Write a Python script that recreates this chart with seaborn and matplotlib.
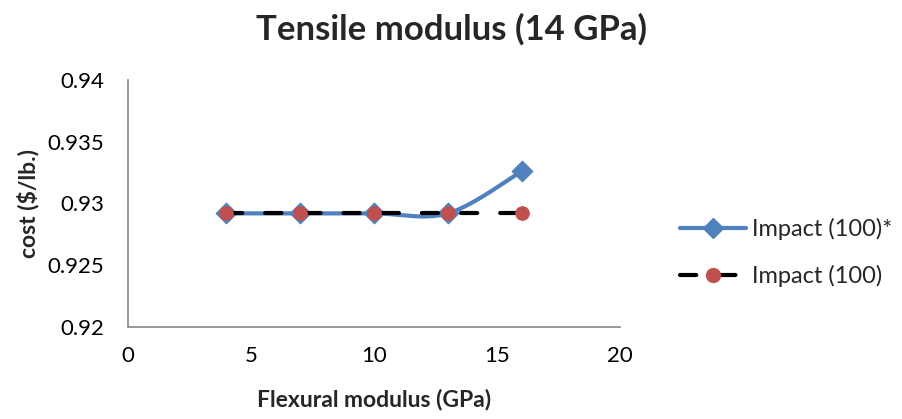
import numpy as np
import pandas as pd
import matplotlib
matplotlib.use("Agg")
import matplotlib.pyplot as plt
import seaborn as sns
from matplotlib.lines import Line2D

# Data
flexural_modulus = [4, 7, 10, 13, 16]
cost_impact_star = [0.9292, 0.9292, 0.9292, 0.9292, 0.9326]
cost_impact = [0.9292, 0.9292, 0.9292, 0.9292, 0.9292]
series_names = ["Impact (100)*", "Impact (100)"]

BLUE = "#4F81BD"
RED = "#C0504D"
DASH = (0, (3.9, 5.5))


def smooth_curve(x, y, n=40):
    """Bezier smoothing through the points (Catmull-Rom style controls)."""
    x = np.asarray(x, float)
    y = np.asarray(y, float)
    px = np.concatenate([[x[0]], x, [x[-1]]])
    py = np.concatenate([[y[0]], y, [y[-1]]])
    xs, ys = [], []
    t = np.linspace(0, 1, n)
    for i in range(1, len(px) - 2):
        p0 = np.array([px[i], py[i]])
        p3 = np.array([px[i + 1], py[i + 1]])
        c1 = p0 + (np.array([px[i + 1], py[i + 1]]) - np.array([px[i - 1], py[i - 1]])) / 6
        c2 = p3 - (np.array([px[i + 2], py[i + 2]]) - np.array([px[i], py[i]])) / 6
        b = ((1 - t) ** 3)[:, None] * p0 + (3 * (1 - t) ** 2 * t)[:, None] * c1 \
            + (3 * (1 - t) * t ** 2)[:, None] * c2 + (t ** 3)[:, None] * p3
        xs.extend(b[:, 0])
        ys.extend(b[:, 1])
    return np.array(xs), np.array(ys)


sns.set_style("white")
plt.rcParams["font.family"] = ["Lato", "DejaVu Sans"]

fig = plt.figure(figsize=(9.03, 4.19), dpi=100)
ax = fig.add_axes([0.1417, 0.2196, 0.5449, 0.5895])

sx, sy = smooth_curve(flexural_modulus, cost_impact_star)
smooth_df = pd.DataFrame({"x": sx, "y": sy})
pts_star = pd.DataFrame({"x": flexural_modulus, "y": cost_impact_star})
pts_base = pd.DataFrame({"x": flexural_modulus, "y": cost_impact})

# Smoothed blue series with diamond markers
sns.lineplot(data=smooth_df, x="x", y="y", ax=ax, color=BLUE, lw=3,
             sort=False, estimator=None, zorder=2)
sns.scatterplot(data=pts_star, x="x", y="y", ax=ax, marker="D", s=110,
                color=BLUE, edgecolor=BLUE, zorder=3)

# Dashed black reference series with red circle markers
sns.lineplot(data=pts_base, x="x", y="y", ax=ax, color="black", lw=3,
             dashes=False, linestyle=DASH, dash_capstyle="round", zorder=4)
sns.scatterplot(data=pts_base, x="x", y="y", ax=ax, marker="o", s=95,
                color=RED, edgecolor=RED, zorder=5)

ax.set_xlim(0, 20)
ax.set_ylim(0.92, 0.94)
ax.set_xticks([0, 5, 10, 15, 20])
ax.set_yticks([0.92, 0.925, 0.93, 0.935, 0.94])
ax.set_yticklabels(["0.92", "0.925", "0.93", "0.935", "0.94"])
ax.tick_params(axis="both", length=0, labelsize=16, colors="black")
ax.tick_params(axis="x", pad=14)
ax.tick_params(axis="y", pad=17)

for side in ["top", "right"]:
    ax.spines[side].set_visible(False)
for side in ["left", "bottom"]:
    ax.spines[side].set_color("#868686")
    ax.spines[side].set_linewidth(1.2)

ax.set_xlabel("Flexural modulus (GPa)", fontsize=16.5, fontweight="bold", labelpad=16)
ax.set_ylabel("cost ($/lb.)", fontsize=16.5, fontweight="bold", labelpad=6)

fig.suptitle("Tensile modulus (14 GPa)", fontsize=25, fontweight="bold",
             x=0.5, y=0.97)

handles = [
    Line2D([0], [0], color=BLUE, lw=3, marker="D", markersize=10,
           markerfacecolor=BLUE, markeredgecolor=BLUE),
    Line2D([0], [0], color="black", lw=3, linestyle=DASH, dash_capstyle="round",
           marker="o", markersize=10, markerfacecolor=RED, markeredgecolor=RED),
]
fig.legend(handles, series_names, loc="center left",
           bbox_to_anchor=(0.753, 0.397), frameon=False, fontsize=17,
           borderpad=0, borderaxespad=0,
           handlelength=2.8, handletextpad=0.25, labelspacing=1.05)

fig.savefig("out.png", dpi=100, facecolor="white")
